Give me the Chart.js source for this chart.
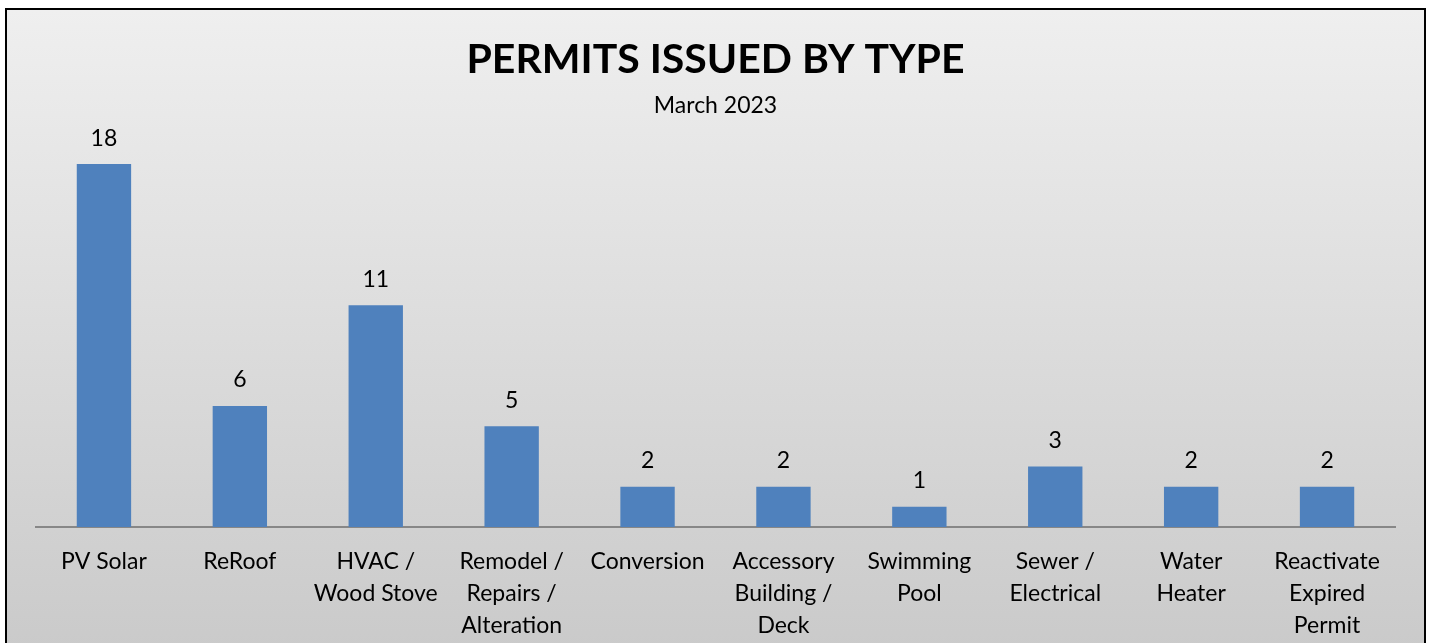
<!DOCTYPE html>
<html>
<head>
<meta charset="utf-8">
<script src="https://cdn.jsdelivr.net/npm/chart.js@4/dist/chart.umd.min.js"></script>
<style>
  html, body { margin: 0; padding: 0; background: #fff; overflow: hidden; }
  #frame {
    position: absolute; left: 5px; top: 8px; width: 1417px; height: 700px;
    border: 2px solid #000;
    background: linear-gradient(to bottom, #efefef 0px, #cacaca 640px);
  }
  #wrap { position: absolute; left: 0; top: 0; width: 1429px; height: 663px; }
</style>
</head>
<body>
<div id="frame"></div>
<div id="wrap"><canvas id="myChart"></canvas></div>
<script>
const categories = [
    ['PV Solar'],
    ['ReRoof'],
    ['HVAC /', 'Wood Stove'],
    ['Remodel /', 'Repairs /', 'Alteration'],
    ['Conversion'],
    ['Accessory', 'Building /', 'Deck'],
    ['Swimming', 'Pool'],
    ['Sewer /', 'Electrical'],
    ['Water', 'Heater'],
    ['Reactivate', 'Expired', 'Permit'],
];

const permits = [18, 6, 11, 5, 2, 2, 1, 3, 2, 2];

const FONT = 'Lato, "Open Sans", sans-serif';

// value labels above each bar
const barLabels = {
    id: 'barLabels',
    afterDatasetsDraw(chart) {
        const ctx = chart.ctx;
        const meta = chart.getDatasetMeta(0);
        ctx.save();
        ctx.font = '23px ' + FONT;
        ctx.fillStyle = '#000';
        ctx.textAlign = 'center';
        ctx.textBaseline = 'middle';
        meta.data.forEach((bar, i) => {
            ctx.fillText(String(permits[i]), bar.x, bar.y - 26);
        });
        ctx.restore();
    }
};

new Chart(document.getElementById('myChart'), {
    type: 'bar',
    data: {
        labels: categories,
        datasets: [{
            data: permits,
            backgroundColor: '#4F81BD',
            borderWidth: 0,
            barPercentage: 0.4,
            categoryPercentage: 1,
        }]
    },
    options: {
        responsive: true,
        maintainAspectRatio: false,
        animation: false,
        layout: { padding: { left: 36, right: 34, top: 0, bottom: 2 } },
        plugins: {
            legend: { display: false },
            tooltip: { enabled: false },
            title: {
                display: true,
                text: 'PERMITS ISSUED BY TYPE',
                color: '#000',
                font: { family: FONT, size: 41, weight: 'bold', lineHeight: 1.2 },
                padding: { top: 35, bottom: 8 }
            },
            subtitle: {
                display: true,
                text: 'March 2023',
                color: '#000',
                font: { family: FONT, size: 23, lineHeight: 1.2 },
                padding: { top: 0, bottom: 4 }
            }
        },
        scales: {
            x: {
                grid: { display: false, drawTicks: false },
                border: { display: true, color: '#878787', width: 2 },
                ticks: {
                    color: '#000',
                    padding: 19,
                    maxRotation: 0,
                    autoSkip: false,
                    font: { family: FONT, size: 23, lineHeight: 32 / 23 }
                }
            },
            y: {
                display: false,
                min: 0,
                max: 20
            }
        }
    },
    plugins: [barLabels]
});
</script>
</body>
</html>
